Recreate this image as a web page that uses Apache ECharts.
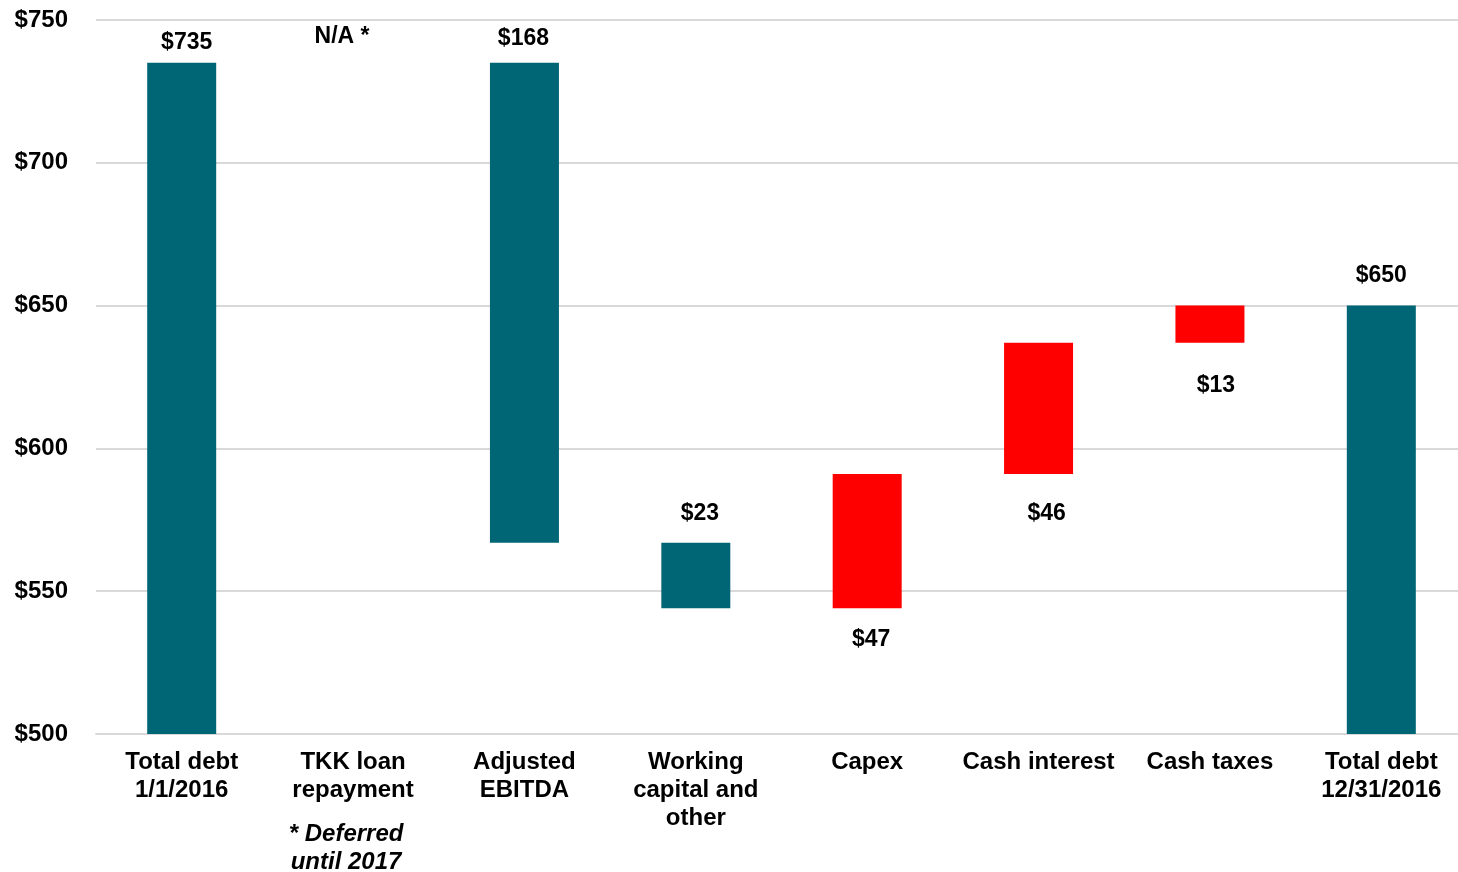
<!DOCTYPE html>
<html>
<head>
<meta charset="utf-8">
<script src="https://cdn.jsdelivr.net/npm/echarts@6/dist/echarts.min.js"></script>
<style>
  html, body { margin: 0; padding: 0; background: #fff; }
  #main { width: 1458px; height: 872px; }
</style>
</head>
<body>
<div id="main"></div>
<script>
var categories = ['Total debt\n1/1/2016', 'TKK loan\nrepayment', 'Adjusted\nEBITDA', 'Working\ncapital and\nother', 'Capex', 'Cash interest', 'Cash taxes', 'Total debt\n12/31/2016'];
// change in debt for each step, totals are absolute
var changes = [735, 0, -168, -23, 47, 46, 13, 650];
var kinds = ['total', 'na', 'down', 'down', 'up', 'up', 'up', 'total'];
var valueLabels = ['$735', 'N/A *', '$168', '$23', '$47', '$46', '$13', '$650'];
var yTicks = [500, 550, 600, 650, 700, 750];

var labelGap = [9, 15, 13, 17, 20, 28, 31, 18];
var labelShift = [5, -11, -1, 4, 4, 8, 6, 0];

var dom = document.getElementById('main');
var myChart = echarts.init(dom);

// running totals for the waterfall
var baseData = [];
var barData = [];
var running = 0;
for (var i = 0; i < changes.length; i++) {
    var k = kinds[i];
    var low, high;
    if (k == 'total') {
        low = yTicks[0];
        high = changes[i];
        running = changes[i];
    } else if (k == 'na') {
        low = running;
        high = running;
    } else {
        var next = running + changes[i];
        low = Math.min(running, next);
        high = Math.max(running, next);
        running = next;
    }
    baseData.push(low);
    var below = (k == 'up');
    barData.push({
        value: high - low,
        itemStyle: { color: k == 'up' ? '#ff0000' : '#006675' },
        label: {
            show: true,
            position: below ? 'bottom' : 'top',
            distance: labelGap[i],
            offset: [labelShift[i], 0],
            formatter: valueLabels[i]
        }
    });
}

var font = 'Arial, "Liberation Sans", sans-serif';

var option = {
    backgroundColor: '#ffffff',
    animation: false,
    grid: {
        left: 96,
        right: -9,
        top: 20,
        bottom: 138,
        outerBoundsMode: 'none',
        containLabel: false
    },
    xAxis: {
        type: 'category',
        data: categories,
        axisLine: { lineStyle: { color: '#d9d9d9', width: 2 } },
        axisTick: { show: false },
        axisLabel: {
            interval: 0,
            margin: 14,
            color: '#000',
            fontFamily: font,
            fontWeight: 'bold',
            fontSize: 24,
            lineHeight: 28,
            formatter: function (v) {
                if (v.indexOf('TKK') == 0) {
                    return '{a|TKK loan}\n{a|repayment}\n{s| }\n{i|* Deferred}\n{i|until 2017}';
                }
                return v;
            },
            rich: {
                a: { fontFamily: font, fontWeight: 'bold', fontSize: 24, lineHeight: 28, color: '#000' },
                s: { fontSize: 10, lineHeight: 16 },
                i: { fontFamily: font, fontWeight: 'bold', fontStyle: 'italic', fontSize: 24, lineHeight: 28, color: '#000', padding: [0, 14, 0, 0] }
            }
        }
    },
    yAxis: {
        type: 'value',
        min: 500,
        max: 750,
        interval: 50,
        axisLine: { show: false },
        axisTick: { show: false },
        splitLine: { lineStyle: { color: '#d9d9d9', width: 2 } },
        axisLabel: {
            margin: 28,
            color: '#000',
            fontFamily: font,
            fontWeight: 'bold',
            fontSize: 24,
            formatter: '${value}'
        }
    },
    series: [
        {
            type: 'bar',
            stack: 'wf',
            data: baseData,
            barWidth: 69,
            itemStyle: { color: 'transparent' },
            emphasis: { disabled: true },
            silent: true
        },
        {
            type: 'bar',
            stack: 'wf',
            data: barData,
            barWidth: 69,
            label: {
                color: '#000',
                fontFamily: font,
                fontWeight: 'bold',
                fontSize: 23
            }
        }
    ]
};

myChart.setOption(option, true);
</script>
</body>
</html>
